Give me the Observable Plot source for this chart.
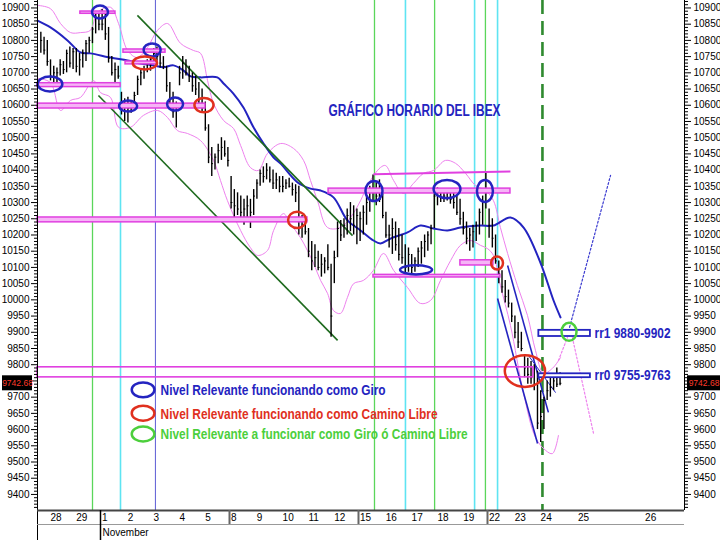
<!DOCTYPE html>
<html><head><meta charset="utf-8">
<script src="https://cdn.jsdelivr.net/npm/d3@7"></script>
<script src="https://cdn.jsdelivr.net/npm/@observablehq/plot@0.6"></script>
<style>html,body{margin:0;padding:0;background:#fff}svg{display:block}</style>
</head><body><div id="chart"></div>
<script>
// ---------------- DATA ----------------
// trading sessions (day index: 1 Nov = 0)
const sessionLabels = ["27","28","29","1","2","3","4","5","8","9","10","11","12","15","16","17","18","19","22","23","24"];
const sessionIndex = [-3,-2,-1,0,1,2,3,4,5,6,7,8,9,10,11,12,13,14,15,16,17];
const barHigh = [
 [10825,10810,10800],
 [10740,10720,10715,10740,10735,10770,10780,10775],
 [10775,10760,10770,10800,10810,10840,10880,10885],
 [10895,10880,10840,10750,10730,10720,10640,10620],
 [10625,10610,10640,10690,10710,10720,10740,10750],
 [10775,10780,10760,10750,10720,10670,10640,10610],
 [10720,10750,10740,10720,10700,10690,10670,10650],
 [10610,10540,10470,10450,10480,10500,10490,10470],
 [10380,10340,10330,10320,10310,10320,10310,10340],
 [10370,10400,10410,10420,10410,10400,10390,10380],
 [10380,10370,10375,10360,10355,10350,10260,10250],
 [10220,10180,10170,10150,10140,10130,10170,10110],
 [10150,10240,10245,10250,10280,10300,10290,10280],
 [10270,10290,10320,10350,10385,10360,10370,10330],
 [10270,10230,10250,10240,10220,10200,10170,10160],
 [10140,10130,10160,10180,10200,10210,10230,10340],
 [10345,10340,10335,10340,10335,10340,10320,10310],
 [10270,10240,10220,10230,10240,10280,10320,10390],
 [10280,10250,10200,10120,10090,10060,10030,9990],
 [9950,9930,9900,9830,9820,9810,9800,9780],
 [9720,9700,9750,9760,9770,9790,9775]
];
const barLow = [
 [10760,10755,10720],
 [10675,10660,10665,10690,10695,10700,10715,10710],
 [10700,10690,10715,10735,10760,10790,10820,10830],
 [10830,10800,10730,10690,10670,10680,10570,10550],
 [10545,10575,10590,10630,10660,10680,10700,10705],
 [10725,10735,10715,10710,10640,10600,10560,10530],
 [10660,10680,10690,10670,10640,10630,10600,10580],
 [10520,10420,10380,10400,10420,10430,10440,10410],
 [10280,10250,10260,10240,10230,10250,10220,10260],
 [10310,10350,10360,10370,10360,10340,10340,10330],
 [10330,10340,10345,10320,10300,10200,10190,10200],
 [10130,10090,10100,10090,10070,10080,10090,9885],
 [10050,10130,10180,10190,10200,10210,10200,10170],
 [10180,10200,10230,10270,10300,10290,10300,10250],
 [10190,10160,10140,10150,10120,10110,10080,10085],
 [10080,10085,10100,10110,10130,10150,10170,10220],
 [10290,10300,10300,10305,10295,10280,10260,10230],
 [10200,10170,10150,10160,10180,10200,10230,10280],
 [10190,10160,10110,10050,10020,9990,9975,9930],
 [9880,9850,9840,9760,9740,9740,9720,9600],
 [9560,9600,9690,9700,9720,9730,9735]
];
const barClose = [
 [10800,10770,10735],
 [10690,10700,10700,10725,10710,10760,10730,10765],
 [10720,10740,10760,10790,10800,10835,10870,10850],
 [10850,10820,10745,10700,10710,10690,10590,10600],
 [10590,10600,10630,10680,10700,10710,10730,10740],
 [10760,10750,10730,10720,10660,10620,10580,10600],
 [10700,10730,10700,10690,10660,10650,10620,10600],
 [10530,10440,10420,10440,10460,10470,10450,10430],
 [10300,10290,10280,10270,10280,10290,10270,10320],
 [10360,10390,10380,10400,10370,10360,10370,10350],
 [10350,10360,10350,10340,10330,10220,10230,10210],
 [10150,10120,10130,10100,10110,10120,10100,9950],
 [10130,10220,10200,10230,10260,10250,10230,10260],
 [10250,10270,10300,10340,10330,10320,10310,10260],
 [10200,10200,10220,10170,10140,10130,10100,10140],
 [10100,10120,10150,10160,10180,10200,10220,10320],
 [10320,10315,10320,10330,10310,10300,10270,10250],
 [10220,10190,10200,10210,10230,10270,10300,10330],
 [10230,10190,10120,10080,10040,10010,9990,9950],
 [9900,9870,9850,9790,9770,9760,9740,9620],
 [9640,9690,9720,9730,9750,9740,9742.68]
];
const lastPrice = 9742.68;

// blue moving average
const maDay = [-2.44,-1.94,-1.28,-0.78,-0.39,0.39,1.05,1.55,2.05,2.44,2.83,3.22,3.49,3.88,4.53,4.77,5.15,5.54,5.93,6.32,6.71,6.98,7.64,8.14,8.53,9.03,9.57,10.08,10.58,10.85,11.24,11.90,12.40,12.91,13.45,13.95,14.73,15.23,15.89,16.40,17.05,17.56,17.83];
const maPrice = [10861,10840,10800,10763,10760,10747,10738,10729,10723,10717,10723,10707,10689,10686,10686,10667,10636,10593,10532,10482,10439,10420,10362,10343,10337,10316,10245,10214,10183,10174,10189,10208,10229,10220,10214,10223,10229,10229,10254,10223,10115,9998,9946];

// pink bands
const upDay = [-2.44,-1.94,-1.55,-1.16,-0.78,-0.39,-0.12,0.39,0.70,1.05,1.43,1.82,2.21,2.60,3.10,3.60,3.88,4.15,4.38,4.77,5.16,5.43,5.81,6.12,6.47,6.98,7.48,7.87,8.14,8.41,8.80,9.30,9.69,10.08,10.35,10.85,11.05,11.36,11.74,12.13,12.52,12.91,13.37,13.76,14.15,14.53,14.92,15.23,15.50,15.78,16.16,16.55,16.86,17.17,17.52,17.83];
const upPrice = [10908,10898,10852,10824,10824,10831,10886,10902,10852,10769,10747,10778,10831,10852,10791,10769,10760,10676,10606,10553,10528,10476,10408,10399,10451,10482,10467,10430,10368,10306,10223,10223,10254,10306,10353,10408,10414,10368,10328,10359,10390,10399,10430,10421,10390,10353,10337,10306,10223,10143,10044,9952,9844,9774,9789,9822];
const loDay = [-2.44,-1.94,-1.55,-1.16,-0.78,-0.27,0,0.39,0.70,1.16,1.67,2.21,2.60,2.98,3.37,3.88,4.38,4.65,4.92,5.43,5.81,6.09,6.47,6.71,7.09,7.36,7.75,8.02,8.26,8.53,8.80,9.03,9.30,9.57,9.81,10.19,10.58,10.97,11.36,11.90,12.40,12.79,13.18,13.57,13.95,14.34,14.73,15.00,15.23,15.50,15.89,16.40,16.86,17.25,17.52,17.75];
const loPrice = [10683,10670,10584,10615,10624,10676,10639,10624,10532,10532,10569,10584,10562,10522,10513,10491,10430,10368,10306,10214,10161,10137,10152,10214,10266,10235,10192,10152,10112,10060,10020,9967,9958,10007,10050,10060,10091,10143,10091,10038,9989,9998,10060,10121,10168,10183,10168,10158,10137,10044,9921,9711,9576,9536,9526,9582];

// projections (dotted)
const projBlueDay = [18.18,19.77], projBluePrice = [9915,10384];
const projPinkADay = [17.75,18.10], projPinkAPrice = [9813,9884];
const projPinkBDay = [18.29,19.11], projPinkBPrice = [9884,9588];

// channels
const greenChannels = [
 {x1:1.43, y1:10877, x2:9.77, y2:10198},
 {x1:-0.08, y1:10630, x2:9.19, y2:9875}
];
const blueChannels = [
 {x1:15.78, y1:10106, x2:17.36, y2:9653, w:1.6},
 {x1:15.39, y1:10004, x2:16.94, y2:9557, w:1.6},
 {x1:16.59, y1:9828, x2:17.64, y2:9714, w:1}
];

// relevant levels (shaded boxes)
const levelX1 = [-2.44,-2.44,-0.78,0.89,0.97,-2.44,8.84,10.58,13.95];
const levelX2 = [0.78,4.07,0.58,2.52,2.21,8.02,15.89,15.50,15.23];
const levelLow = [10656,10590,10882,10762,10726,10239,10328,10069,10106];
const levelHigh = [10668,10605,10889,10772,10735,10254,10343,10077,10122];
const topLine = {x1:10.58, y1:10387, x2:15.89, y2:10396};
const longBand = {x1:-2.44, x2:16.78, y1:9761, y2:9792};

// rr zones
const rrLabels = ["rr1 9880-9902","rr0 9755-9763"];
const rrLow = [9887,9760], rrHigh = [9906,9772];
const rrX1 = 16.99, rrX2 = 18.99, rrTextDay = 19.15;

// vertical markers
const greenLines = [-0.31,10.62,12.95,14.92];
const cyanLines = [0.775,11.82,14.50,15.39];
const blueLines = [2.13];
const dashedLines = [17.13];

// circled levels
const ellipseDay = [-1.94,0,1.09,2.02,2.91,10.62,12.25,13.45,14.92,1.74,4.03,7.64,15.39,16.47,18.18];
const ellipsePrice = [10664,10886,10596,10769,10602,10334,10091,10340,10334,10729,10599,10245,10112,9779,9900];
const ellipseHalfDays = [0.48,0.31,0.35,0.33,0.31,0.33,0.62,0.52,0.31,0.47,0.37,0.35,0.23,0.78,0.29];
const ellipseHalfPts = [23,20,17,20,20,31,14,28,34,20,22,25,20,49,28];
const ellipseKind = ["Giro","Giro","Giro","Giro","Giro","Giro","Giro","Giro","Giro","Camino","Camino","Camino","Camino","Camino","Ambos"];

// legend
const legendLabels = ["Nivel Relevante funcionando como Giro","Nivel Relevante funcionando como Camino Libre","Nivel Relevante a funcionar como Giro ó Camino Libre"];
const legendKind = ["Giro","Camino","Ambos"];
const legendPrice = [9721,9649,9585];
const legendIconDay = 1.67, legendTextDay = 2.33;

const titleText = "GRÁFICO HORARIO DEL IBEX";
const titleDay = 12.17, titlePrice = 10584;

// axis ticks
const yTicks = [9400,9450,9500,9550,9600,9650,9700,9750,9800,9850,9900,9950,10000,10050,10100,10150,10200,10250,10300,10350,10400,10450,10500,10550,10600,10650,10700,10750,10800,10850,10900];
const dayLabels = ["28","29","1","2","3","4","5","8","9","10","11","12","15","16","17","18","19","22","23","24","25","26"];
const dayPos = [-2,-1,0,1,2,3,4,5,6,7,8,9,10,11,12,13,14,15,16,17,18.45,21.05];
const weekStarts = [5,10,15];
const monthLabel = "November", monthPos = 0;

// ---------------- LAYOUT / STYLE ----------------
const W = 720, H = 540, ML = 37, MR = 36, MT = 0, MB = 30;
const X_MIN = -2.442, X_MAX = 22.636, Y_MIN = 9350.5, Y_MAX = 10923;
const pxPerDay = (W - ML - MR) / (X_MAX - X_MIN);
const pxPerPt = (H - MT - MB) / (Y_MAX - Y_MIN);
const below = px => Y_MIN - px / pxPerPt;
const leftOut = px => X_MIN - px / pxPerDay;
const rightOut = px => X_MAX + px / pxPerDay;
const kindColor = {Giro: "#2424c0", Camino: "#e0301e", Ambos: "#4ccf3c"};
const narrow = "'Liberation Sans Narrow','Arial Narrow','Liberation Sans',Arial,sans-serif";
const BARS_PER_DAY = 8;

const bars = [];
sessionIndex.forEach((d, s) => {
  const n = barHigh[s].length;
  const offset = s === 0 ? BARS_PER_DAY - n : 0;
  barHigh[s].forEach((h, k) => bars.push({
    x: d + (offset + k + 0.5) / BARS_PER_DAY, high: h, low: barLow[s][k], close: barClose[s][k]
  }));
});
const zip = (xs, ys) => xs.map((x, i) => ({x, y: ys[i]}));
const levels = levelX1.map((x1, i) => ({x1, x2: levelX2[i], y1: levelLow[i], y2: levelHigh[i]}));
const ellipses = ellipseDay.map((d, i) => ({
  x1: d - ellipseHalfDays[i], x2: d + ellipseHalfDays[i],
  y1: ellipsePrice[i] - ellipseHalfPts[i], y2: ellipsePrice[i] + ellipseHalfPts[i],
  c: kindColor[ellipseKind[i]]
}));
const legendIcons = legendKind.map((k, i) => ({
  x1: legendIconDay - 0.44, x2: legendIconDay + 0.44,
  y1: legendPrice[i] - 23, y2: legendPrice[i] + 23, c: kindColor[k]
}));
const legend = legendLabels.map((t, i) => ({t, y: legendPrice[i], c: kindColor[legendKind[i]]}));
const rr = rrLabels.map((t, i) => ({t, y1: rrLow[i], y2: rrHigh[i], y: (rrLow[i] + rrHigh[i]) / 2}));
const minorTicks = d3.range(9360, 10921, 10).filter(v => v % 50 !== 0);
const badgeHalf = 7.5 / pxPerPt;
// the 9750 label is hidden behind the last-price badge
const yLabel = v => Math.abs(v - lastPrice) < 20 ? "" : String(v);

const chart = Plot.plot({
  width: W, height: H,
  marginLeft: ML, marginRight: MR, marginTop: MT, marginBottom: MB,
  x: {domain: [X_MIN, X_MAX], axis: null},
  y: {domain: [Y_MIN, Y_MAX], axis: null},
  color: {type: "identity"},
  style: {fontFamily: "'Liberation Sans',Arial,sans-serif", fontSize: "10px", color: "#000", background: "#fff", overflow: "visible"},
  marks: [
    // vertical markers
    Plot.ruleX(greenLines, {x: d => d, stroke: "#5ad65a", strokeWidth: 1.3}),
    Plot.ruleX(cyanLines, {x: d => d, stroke: "#5ee4f2", strokeWidth: 1.6}),
    Plot.ruleX(blueLines, {x: d => d, stroke: "#6a6ad8", strokeWidth: 1.1}),
    Plot.ruleX(dashedLines, {x: d => d, stroke: "#2f8a2f", strokeWidth: 2.6, strokeDasharray: "14,7"}),
    // bands
    Plot.line(zip(upDay, upPrice), {x: "x", y: "y", stroke: "#ee82ee", strokeWidth: 1, curve: "catmull-rom"}),
    Plot.line(zip(loDay, loPrice), {x: "x", y: "y", stroke: "#ee82ee", strokeWidth: 1, curve: "catmull-rom"}),
    Plot.line(zip(projPinkADay, projPinkAPrice), {x: "x", y: "y", stroke: "#ee82ee", strokeWidth: 1.2, strokeDasharray: "2,2"}),
    Plot.line(zip(projPinkBDay, projPinkBPrice), {x: "x", y: "y", stroke: "#ee82ee", strokeWidth: 1.2, strokeDasharray: "2,2"}),
    Plot.line(zip(projBlueDay, projBluePrice), {x: "x", y: "y", stroke: "#3a3ad0", strokeWidth: 1.2, strokeDasharray: "2,2"}),
    // moving average
    Plot.line(zip(maDay, maPrice), {x: "x", y: "y", stroke: "#2323c0", strokeWidth: 2, curve: "catmull-rom"}),
    // channels
    Plot.link(greenChannels, {x1: "x1", y1: "y1", x2: "x2", y2: "y2", stroke: "#1e6a1e", strokeWidth: 1.6}),
    Plot.link(blueChannels, {x1: "x1", y1: "y1", x2: "x2", y2: "y2", stroke: "#2424c0", strokeWidth: d => d.w}),
    // bars
    Plot.ruleX(bars, {x: "x", y1: "low", y2: "high", stroke: "#000", strokeWidth: 1.4}),
    Plot.ruleY(bars, {y: "close", x1: "x", x2: d => d.x + 0.07, stroke: "#000", strokeWidth: 1}),
    // levels
    Plot.rect(levels, {x1: "x1", x2: "x2", y1: "y1", y2: "y2", fill: "#f6b4f6", stroke: "#e040e0", strokeWidth: 1.5}),
    Plot.link([topLine], {x1: "x1", y1: "y1", x2: "x2", y2: "y2", stroke: "#e040e0", strokeWidth: 2}),
    Plot.rect([longBand], {x1: "x1", x2: "x2", y1: "y1", y2: "y2", fill: "none", stroke: "#e040e0", strokeWidth: 1.6}),
    // rr boxes
    Plot.rect(rr, {x1: () => rrX1, x2: () => rrX2, y1: "y1", y2: "y2", fill: "#fff", stroke: "#2424c0", strokeWidth: 1.8}),
    Plot.text(rr, {x: () => rrTextDay, y: "y", text: "t", textAnchor: "start", fill: "#2424c0", fontWeight: "bold", fontSize: 14.5, fontFamily: narrow, ariaDescription: "rr-text"}),
    // ellipses
    Plot.rect(ellipses, {x1: "x1", x2: "x2", y1: "y1", y2: "y2", fill: "none", stroke: "c", strokeWidth: 2.5, ariaDescription: "ellipse"}),
    Plot.rect(legendIcons, {x1: "x1", x2: "x2", y1: "y1", y2: "y2", fill: "none", stroke: "c", strokeWidth: 2.5, ariaDescription: "ellipse"}),
    Plot.text(legend, {x: () => legendTextDay, y: "y", text: "t", fill: "c", textAnchor: "start", fontSize: 15, fontFamily: narrow, fontWeight: "bold", ariaDescription: "legend-text"}),
    Plot.text([titleText], {x: () => titleDay, y: () => titlePrice, text: d => d, fill: "#2424c0", fontSize: 16, fontWeight: "bold", fontFamily: narrow, ariaDescription: "title-text"}),
    // y axes
    Plot.axisY(yTicks, {anchor: "left", tickSize: 6, tickPadding: 2, tickFormat: yLabel, label: null, fontSize: 10}),
    Plot.axisY(minorTicks, {anchor: "left", tickSize: 3, tickFormat: () => "", label: null}),
    Plot.axisY(yTicks, {anchor: "right", tickSize: 6, tickPadding: 3, tickFormat: yLabel, label: null, fontSize: 10}),
    Plot.axisY(minorTicks, {anchor: "right", tickSize: 3, tickFormat: () => "", label: null}),
    // frame edges
    Plot.ruleX([X_MIN], {x: d => d, y1: () => below(30), y2: () => Y_MAX, stroke: "#000", strokeWidth: 1}),
    Plot.ruleX([X_MAX], {x: d => d, y1: () => Y_MIN, y2: () => Y_MAX, stroke: "#000", strokeWidth: 1}),
    // x axis strip
    Plot.ruleY([Y_MIN], {y: d => d, stroke: "#444", strokeWidth: 2}),
    Plot.ruleY([below(14)], {y: d => d, stroke: "#999", strokeWidth: 1}),
    Plot.ruleX(weekStarts, {x: d => d, y1: () => Y_MIN, y2: () => below(14), stroke: "#666", strokeWidth: 2}),
    Plot.ruleX([monthPos], {x: d => d, y1: () => Y_MIN, y2: () => below(30), stroke: "#000", strokeWidth: 1.5}),
    Plot.text(dayLabels, {x: (d, i) => dayPos[i], y: () => Y_MIN, text: d => d, dy: 7.5, dx: 1.5, textAnchor: "start", fontSize: 10}),
    Plot.text([monthLabel], {x: () => monthPos, y: () => Y_MIN, text: d => d, dy: 22, dx: 2, textAnchor: "start", fontSize: 10}),
    // last price badges
    Plot.rect([lastPrice], {x1: () => leftOut(35), x2: () => leftOut(5), y1: d => d - badgeHalf, y2: d => d + badgeHalf, fill: "#000"}),
    Plot.rect([lastPrice], {x1: () => rightOut(3), x2: () => rightOut(36), y1: d => d - badgeHalf, y2: d => d + badgeHalf, fill: "#000"}),
    Plot.text([lastPrice], {x: () => leftOut(20), y: d => d, text: d => d.toFixed(2), fill: "#ff3a2a", fontSize: 8.5}),
    Plot.text([lastPrice], {x: () => rightOut(19.5), y: d => d, text: d => d.toFixed(2), fill: "#ff3a2a", fontSize: 8.5})
  ]
});

// turn marked rects into ellipses
d3.select(chart).selectAll('[aria-description="ellipse"] rect').each(function () {
  const w = +this.getAttribute("width"), h = +this.getAttribute("height");
  this.setAttribute("rx", w / 2); this.setAttribute("ry", h / 2);
});
// fit narrow text widths
const fit = (label, widths) => d3.select(chart).selectAll(`[aria-description="${label}"] text`).each(function (d, i) {
  this.setAttribute("textLength", widths[i]); this.setAttribute("lengthAdjust", "spacingAndGlyphs");
});
fit("title-text", [172]);
fit("legend-text", [225, 277, 307]);
fit("rr-text", [76, 76]);

document.getElementById("chart").appendChild(chart);
</script></body></html>
